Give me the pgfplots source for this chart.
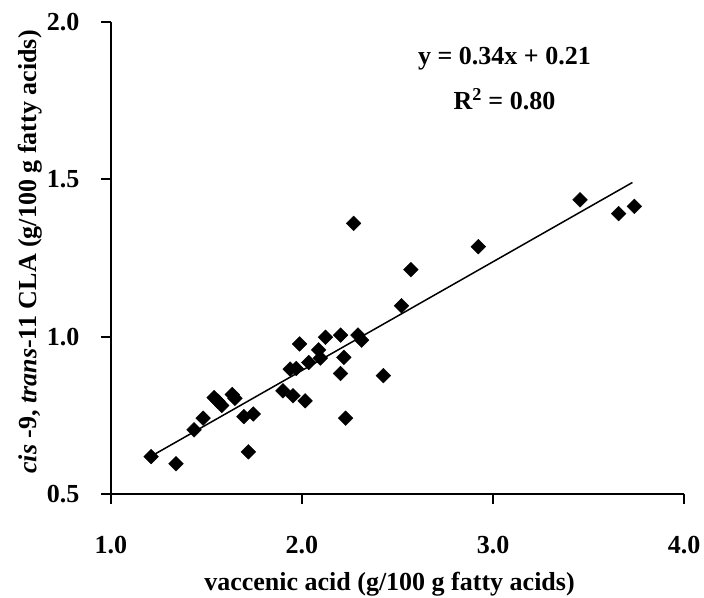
\documentclass[border=0pt]{standalone}
\usepackage{pgfplots}
\pgfplotsset{compat=1.18}
\usepackage{fontspec}
\setmainfont{Liberation Serif}

\begin{document}
\begin{tikzpicture}
\begin{axis}[
    scale only axis,
    width=573pt, height=472pt,
    xmin=1, xmax=4, ymin=0.5, ymax=2,
    axis lines=left,
    axis line style={-, line width=2pt},
    xtick={1,2,3,4}, ytick={0.5,1,1.5,2},
    tick align=outside,
    major tick length=10pt,
    every tick/.style={black, line width=2pt},
    /pgf/number format/assume math mode=true,
    /pgf/number format/fixed, /pgf/number format/fixed zerofill,
    /pgf/number format/precision=1,
    tick label style={font=\fontsize{26}{30}\selectfont\bfseries},
    xticklabel style={yshift=-29pt},
    yticklabel style={xshift=-18pt},
    label style={font=\fontsize{26}{30}\selectfont\bfseries},
    xlabel={vaccenic acid (g/100 g fatty acids)},
    ylabel={\textit{cis} -9, \textit{trans}-11 CLA (g/100 g fatty acids)},
    xlabel style={at={(axis description cs:0.5,0)}, anchor=center, yshift=-90pt, xshift=-8pt},
    ylabel style={at={(axis description cs:0,0.5)}, anchor=center, yshift=81pt, xshift=6pt},
    clip=false,
]
\addplot[only marks, mark=square*, mark size=5.2pt, mark options={rotate=45, black}] coordinates {
(1.21,0.619) (1.340,0.596) (1.435,0.704) (1.482,0.741)
(1.540,0.806) (1.560,0.795) (1.580,0.781)
(1.635,0.816) (1.649,0.804) (1.696,0.746) (1.745,0.754) (1.719,0.634)
(1.900,0.828) (1.953,0.812) (2.016,0.796)
(1.938,0.897) (1.970,0.899) (1.987,0.977) (2.035,0.918)
(2.087,0.958) (2.096,0.932) (2.123,0.998)
(2.202,1.005) (2.219,0.934) (2.202,0.883) (2.228,0.741)
(2.293,1.005) (2.312,0.989) (2.426,0.876)
(2.521,1.098) (2.570,1.213) (2.923,1.286)
(3.456,1.435) (3.658,1.391) (3.740,1.414)
(2.270,1.360)
};
\addplot[black, line width=1.5pt] coordinates {(1.21,0.62) (3.73,1.49)};
\node[font=\fontsize{26}{30}\selectfont\bfseries] at (axis cs:3.06,1.882) {y = 0.34x + 0.21};
\node[font=\fontsize{26}{30}\selectfont\bfseries] at (axis cs:3.06,1.755) {R\textsuperscript{2} = 0.80};
\coordinate (sw) at (rel axis cs:0,0);
\coordinate (ne) at (rel axis cs:1,1);
\end{axis}
\pgfresetboundingbox
\path[use as bounding box] ([shift={(-111pt,-104pt)}]sw) rectangle ([shift={(20pt,22pt)}]ne);
\end{tikzpicture}
\end{document}
